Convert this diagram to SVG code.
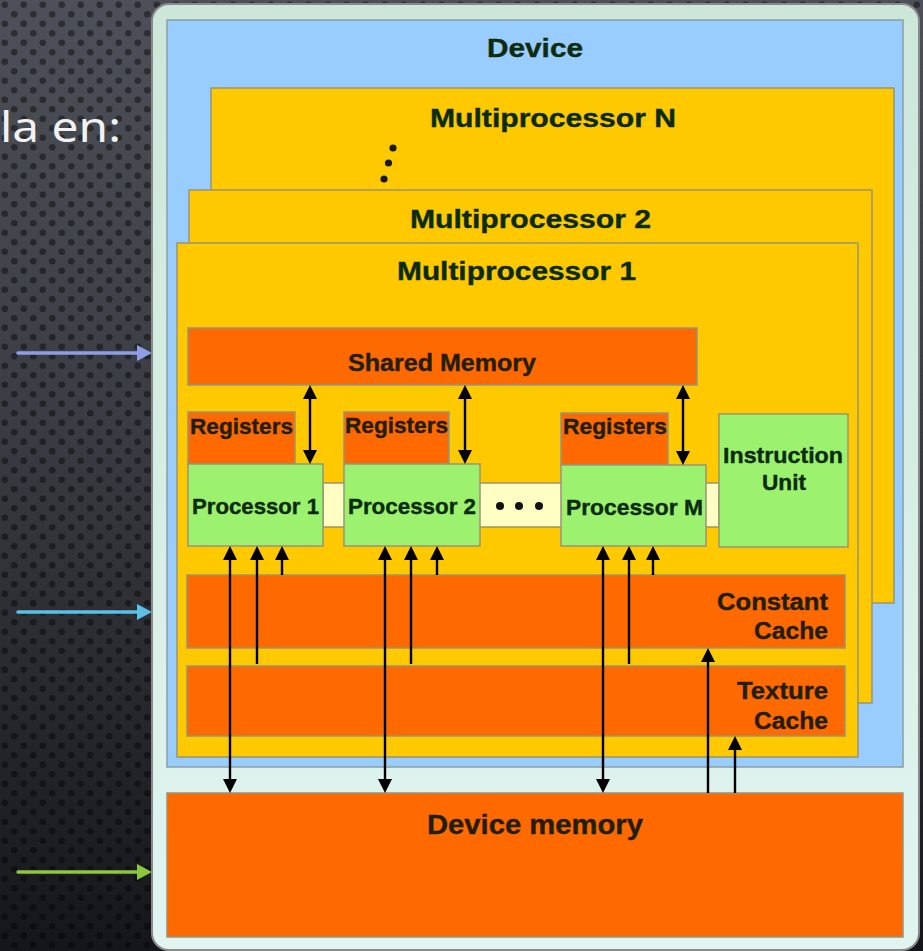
<svg xmlns="http://www.w3.org/2000/svg" width="923" height="951" viewBox="0 0 923 951">
  <defs>
    <linearGradient id="bg" x1="0" y1="0" x2="0" y2="1">
      <stop offset="0" stop-color="#4d5058"/>
      <stop offset="0.45" stop-color="#3a3c43"/>
      <stop offset="1" stop-color="#151619"/>
    </linearGradient>
    <pattern id="dots" width="19" height="19" patternUnits="userSpaceOnUse">
      <circle cx="4.75" cy="4.75" r="3.3" fill="#000" fill-opacity="0.42"/>
      <circle cx="14.25" cy="14.25" r="3.3" fill="#000" fill-opacity="0.42"/>
    </pattern>
    <linearGradient id="mint" x1="0" y1="0" x2="0" y2="1">
      <stop offset="0" stop-color="#cde6da"/>
      <stop offset="1" stop-color="#e0f5f0"/>
    </linearGradient>
    <marker id="head" markerUnits="userSpaceOnUse" markerWidth="14" markerHeight="14" refX="0" refY="7" orient="auto-start-reverse">
      <path d="M0,0 L14,7 L0,14 Z" fill="#000"/>
    </marker>
    <marker id="headLav" markerUnits="userSpaceOnUse" markerWidth="15" markerHeight="16" refX="0" refY="8" orient="auto">
      <path d="M0,0 L15,8 L0,16 Z" fill="#8f9de3"/>
    </marker>
    <marker id="headCyan" markerUnits="userSpaceOnUse" markerWidth="15" markerHeight="16" refX="0" refY="8" orient="auto">
      <path d="M0,0 L15,8 L0,16 Z" fill="#5bc0e6"/>
    </marker>
    <marker id="headLime" markerUnits="userSpaceOnUse" markerWidth="15" markerHeight="16" refX="0" refY="8" orient="auto">
      <path d="M0,0 L15,8 L0,16 Z" fill="#8dc63f"/>
    </marker>
    <style>
      .edge { stroke: #999477; stroke-width: 1.5; }
      .orange { fill: #ff6a00; }
      .yellow { fill: #ffc900; }
      .green { fill: #9cf26e; }
      .pale { fill: #ffffc4; }
      .lbl { font-family: "Liberation Sans", Arial, sans-serif; font-weight: bold; }
      .tg { fill: #0b2b0f; stroke: #0b2b0f; stroke-width: 0.4; }
      .td { fill: #221e0a; stroke: #221e0a; stroke-width: 0.4; }
      .wire { stroke: #000; stroke-width: 2.4; fill: none; }
      .one { marker-end: url(#head); }
      .two { marker-start: url(#head); marker-end: url(#head); }
    </style>
  </defs>

  <!-- slide background -->
  <rect width="923" height="951" fill="url(#bg)"/>
  <rect width="923" height="951" fill="url(#dots)"/>
  <text x="0" y="142" font-family="'Noto Sans', 'DejaVu Sans', sans-serif" font-size="41" fill="#f2f2f2" textLength="121" lengthAdjust="spacingAndGlyphs">la en:</text>

  <!-- pointer arrows on the left -->
  <g id="pointers" stroke-width="3.5" stroke-linecap="round" fill="none">
    <line x1="18" y1="353" x2="137" y2="353" stroke="#8f9de3" marker-end="url(#headLav)"/>
    <line x1="18" y1="612" x2="137" y2="612" stroke="#5bc0e6" marker-end="url(#headCyan)"/>
    <line x1="18" y1="872" x2="137" y2="872" stroke="#8dc63f" marker-end="url(#headLime)"/>
  </g>

  <!-- device frame -->
  <g id="device">
    <rect x="152" y="4" width="767" height="946" rx="17" fill="url(#mint)" stroke="#8a8a8a" stroke-width="2"/>
    <rect x="167" y="20" width="736" height="747" fill="#99ccff" stroke="#8aa0a0" stroke-width="1.5"/>
    <text class="lbl tg" x="487" y="57" font-size="26" textLength="96" lengthAdjust="spacingAndGlyphs">Device</text>
  </g>

  <g id="multiprocessor-n">
    <rect class="yellow edge" x="211" y="88" width="683" height="515"/>
    <text class="lbl tg" x="430" y="127" font-size="26" textLength="246" lengthAdjust="spacingAndGlyphs">Multiprocessor N</text>
    <circle cx="393" cy="148" r="3.6" fill="#1a1a10"/>
    <circle cx="388.5" cy="163" r="3.6" fill="#1a1a10"/>
    <circle cx="384" cy="179" r="3.6" fill="#1a1a10"/>
  </g>

  <g id="multiprocessor-2">
    <rect class="yellow edge" x="189" y="190" width="683" height="513"/>
    <text class="lbl tg" x="410" y="228" font-size="26" textLength="241" lengthAdjust="spacingAndGlyphs">Multiprocessor 2</text>
  </g>

  <g id="multiprocessor-1">
    <rect class="yellow edge" x="177" y="243" width="681" height="514"/>
    <text class="lbl tg" x="397" y="280" font-size="26" textLength="239" lengthAdjust="spacingAndGlyphs">Multiprocessor 1</text>
  </g>

  <g id="shared-memory">
    <rect class="orange edge" x="188" y="328" width="509" height="57"/>
    <text class="lbl td" x="348" y="371" font-size="24" textLength="188" lengthAdjust="spacingAndGlyphs">Shared Memory</text>
  </g>

  <!-- link bar behind the processors -->
  <g id="processor-bus">
    <rect class="pale edge" x="323" y="483" width="396" height="44"/>
    <circle cx="500" cy="506" r="4" fill="#111"/>
    <circle cx="519" cy="506" r="4" fill="#111"/>
    <circle cx="539" cy="506" r="4" fill="#111"/>
  </g>

  <g id="registers-1">
    <rect class="orange edge" x="188" y="412" width="107" height="52"/>
    <text class="lbl td" x="190" y="434" font-size="22" textLength="103" lengthAdjust="spacingAndGlyphs">Registers</text>
  </g>
  <g id="registers-2">
    <rect class="orange edge" x="344" y="412" width="105" height="52"/>
    <text class="lbl td" x="345" y="433" font-size="22" textLength="103" lengthAdjust="spacingAndGlyphs">Registers</text>
  </g>
  <g id="registers-m">
    <rect class="orange edge" x="561" y="413" width="107" height="52"/>
    <text class="lbl td" x="563" y="434" font-size="22" textLength="104" lengthAdjust="spacingAndGlyphs">Registers</text>
  </g>

  <g id="processor-1">
    <rect class="green edge" x="188" y="464" width="135" height="82"/>
    <text class="lbl tg" x="192" y="514" font-size="22" textLength="127" lengthAdjust="spacingAndGlyphs">Processor 1</text>
  </g>
  <g id="processor-2">
    <rect class="green edge" x="344" y="464" width="136" height="82"/>
    <text class="lbl tg" x="348" y="514" font-size="22" textLength="128" lengthAdjust="spacingAndGlyphs">Processor 2</text>
  </g>
  <g id="processor-m">
    <rect class="green edge" x="561" y="465" width="145" height="81"/>
    <text class="lbl tg" x="566" y="515" font-size="22" textLength="137" lengthAdjust="spacingAndGlyphs">Processor M</text>
  </g>

  <g id="instruction-unit">
    <rect class="green edge" x="719" y="414" width="129" height="133"/>
    <text class="lbl tg" x="723" y="463" font-size="22" textLength="120" lengthAdjust="spacingAndGlyphs">Instruction</text>
    <text class="lbl tg" x="762" y="490" font-size="22" textLength="44" lengthAdjust="spacingAndGlyphs">Unit</text>
  </g>

  <g id="constant-cache">
    <rect class="orange edge" x="187" y="575" width="658" height="73"/>
    <text class="lbl td" x="717" y="610" font-size="23" textLength="111" lengthAdjust="spacingAndGlyphs">Constant</text>
    <text class="lbl td" x="754" y="639" font-size="23" textLength="74" lengthAdjust="spacingAndGlyphs">Cache</text>
  </g>

  <g id="texture-cache">
    <rect class="orange edge" x="187" y="666" width="658" height="70"/>
    <text class="lbl td" x="737" y="699" font-size="23" textLength="91" lengthAdjust="spacingAndGlyphs">Texture</text>
    <text class="lbl td" x="754" y="729" font-size="23" textLength="74" lengthAdjust="spacingAndGlyphs">Cache</text>
  </g>

  <g id="device-memory">
    <rect class="orange edge" x="167" y="793" width="736" height="144"/>
    <text class="lbl td" x="427" y="834" font-size="28" textLength="216" lengthAdjust="spacingAndGlyphs">Device memory</text>
  </g>

  <!-- data paths -->
  <g id="connectors">
    <!-- shared memory <-> processors -->
    <line class="wire two" x1="310" y1="399" x2="310" y2="450"/>
    <line class="wire two" x1="465" y1="399" x2="465" y2="450"/>
    <line class="wire two" x1="683" y1="399" x2="683" y2="451"/>
    <!-- device memory <-> processors -->
    <line class="wire two" x1="230" y1="560" x2="230" y2="779"/>
    <line class="wire two" x1="385" y1="560" x2="385" y2="779"/>
    <line class="wire two" x1="603" y1="560" x2="603" y2="779"/>
    <!-- texture cache -> processors -->
    <line class="wire one" x1="257" y1="664" x2="257" y2="560"/>
    <line class="wire one" x1="411" y1="664" x2="411" y2="560"/>
    <line class="wire one" x1="629" y1="664" x2="629" y2="560"/>
    <!-- constant cache -> processors -->
    <line class="wire one" x1="282" y1="575" x2="282" y2="560"/>
    <line class="wire one" x1="437" y1="575" x2="437" y2="560"/>
    <line class="wire one" x1="653" y1="575" x2="653" y2="560"/>
    <!-- device memory -> caches -->
    <line class="wire one" x1="708" y1="793" x2="708" y2="662"/>
    <line class="wire one" x1="735" y1="793" x2="735" y2="750"/>
  </g>
</svg>
